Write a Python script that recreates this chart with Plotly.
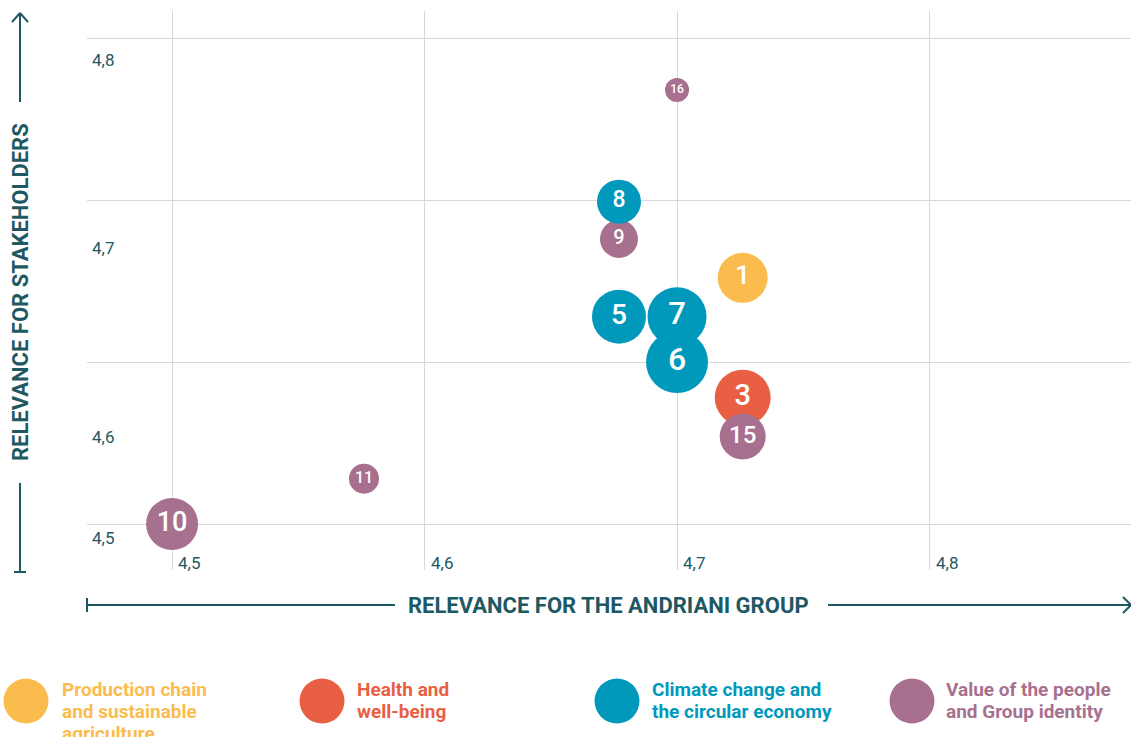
import plotly.graph_objects as go

# ---------------- data ----------------
topic_ids = ["16", "1", "9", "8", "5", "7", "6", "3", "15", "11", "10"]
relevance_group = [4.700, 4.726, 4.677, 4.677, 4.677, 4.700, 4.700, 4.726, 4.726, 4.576, 4.500]
relevance_stakeholders = [4.768, 4.652, 4.676, 4.699, 4.628, 4.628, 4.600, 4.578, 4.554, 4.528, 4.500]
topic_category = ["people", "chain", "people", "climate", "climate", "climate", "climate",
                  "health", "people", "people", "people"]
bubble_weight = [24, 50, 38, 44, 54, 59, 62, 56, 46, 30, 52]

tick_values = [4.5, 4.6, 4.7, 4.8]
tick_labels = ["4,5", "4,6", "4,7", "4,8"]

category_keys = ["chain", "health", "climate", "people"]
category_names = [["Production chain", "and sustainable", "agriculture"],
                  ["Health and", "well-being"],
                  ["Climate change and", "the circular economy"],
                  ["Value of the people", "and Group identity"]]

x_title = "RELEVANCE FOR THE ANDRIANI GROUP"
y_title = "RELEVANCE FOR STAKEHOLDERS"

# ---------------- style ----------------
W, H = 1131, 737
ML, MR, MT, MB = 87, 0, 11, 167
PW, PH = W - ML - MR, H - MT - MB
colors = {"chain": "#FBBC4E", "health": "#E95F43", "climate": "#0099BB", "people": "#A8708F"}
dark = "#1E5863"
grid = "#D3D9DE"
FONT = "Roboto"

def px2x(px):
    return (px - ML) / PW

def px2y(py):
    return (H - MB - py) / PH

fig = go.Figure()
fig.add_trace(go.Scatter(
    x=relevance_group, y=relevance_stakeholders, mode="markers+text",
    text=topic_ids, textposition="middle center",
    textfont=dict(color="white", family=FONT, size=[max(12, round(s * 0.52)) for s in bubble_weight],
                  weight=500),
    marker=dict(size=bubble_weight, sizemode="diameter", sizeref=1,
                color=[colors[c] for c in topic_category], line=dict(width=0), opacity=1),
    hoverinfo="skip", showlegend=False, cliponaxis=False,
))

fig.update_xaxes(range=[4.4663, 4.8798], tickvals=tick_values, showticklabels=False,
                 showgrid=True, gridcolor=grid, gridwidth=1, zeroline=False, showline=False)
fig.update_yaxes(range=[4.4716, 4.8167], tickvals=tick_values, showticklabels=False,
                 showgrid=True, gridcolor=grid, gridwidth=1, zeroline=False, showline=False)

annotations = []
# x tick labels
for v, t in zip(tick_values, tick_labels):
    annotations.append(dict(x=v, xref="x", y=0, yref="paper", text=t, showarrow=False,
                            xanchor="left", yanchor="middle", xshift=4, yshift=7,
                            font=dict(family=FONT, size=17, color=dark)))
# y tick labels (offsets as in reference)
y_label_shift = [-14, -75, -48, -22]
for v, t, s in zip(tick_values, tick_labels, y_label_shift):
    annotations.append(dict(x=0, xref="paper", y=v, yref="y", text=t, showarrow=False,
                            xanchor="left", yanchor="middle", xshift=3, yshift=s,
                            font=dict(family=FONT, size=17, color=dark)))
# axis titles
annotations.append(dict(x=px2x(608), y=px2y(605), xref="paper", yref="paper", text=f"<b>{x_title}</b>",
                        showarrow=False, xanchor="center", yanchor="middle",
                        font=dict(family=FONT, size=22, color=dark)))
annotations.append(dict(x=px2x(20), y=px2y(292), xref="paper", yref="paper", text=f"<b>{y_title}</b>",
                        showarrow=False, xanchor="center", yanchor="middle", textangle=-90,
                        font=dict(family=FONT, size=22, color=dark)))

shapes = []
line_style = dict(color=dark, width=2)
def seg(x0, y0, x1, y1):
    shapes.append(dict(type="line", xref="paper", yref="paper", x0=px2x(x0), y0=px2y(y0),
                       x1=px2x(x1), y1=px2y(y1), line=line_style))
# horizontal arrow
seg(87, 605, 395, 605)
seg(87, 598, 87, 612)
seg(828, 605, 1131, 605)
seg(1123, 597, 1131, 605)
seg(1123, 613, 1131, 605)
# vertical arrow
seg(20, 13, 20, 102)
seg(12, 22, 20, 13)
seg(28, 22, 20, 13)
seg(20, 483, 20, 572)
seg(14, 572, 26, 572)

# legend
legend_circle_x = [26, 322, 617, 912]
legend_text_x = [61, 356, 651, 945]
legend_line_y = [689, 711, 733]
for key, lines, cx, tx in zip(category_keys, category_names, legend_circle_x, legend_text_x):
    r = 22.5
    shapes.append(dict(type="circle", xref="paper", yref="paper",
                       x0=px2x(cx - r), x1=px2x(cx + r), y0=px2y(701 + r), y1=px2y(701 - r),
                       fillcolor=colors[key], line=dict(width=0)))
    for line, ly in zip(lines, legend_line_y):
        annotations.append(dict(x=px2x(tx), y=px2y(ly), xref="paper", yref="paper",
                                text=f"<b>{line}</b>", showarrow=False, xanchor="left",
                                yanchor="middle", align="left", borderpad=0,
                                font=dict(family=FONT, size=19, color=colors[key])))

fig.update_layout(width=W, height=H, margin=dict(l=ML, r=MR, t=MT, b=MB),
                  paper_bgcolor="white", plot_bgcolor="white",
                  annotations=annotations, shapes=shapes, showlegend=False)

fig.write_html("out.html", post_script="document.body.style.margin='0';",
               config={"displayModeBar": False})
